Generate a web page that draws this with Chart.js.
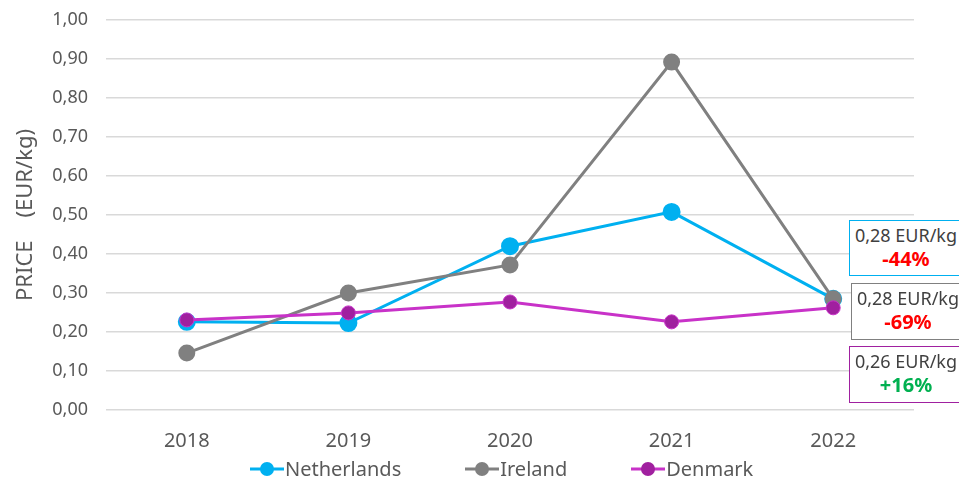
<!DOCTYPE html>
<html>
<head>
<meta charset="utf-8">
<script src="https://cdn.jsdelivr.net/npm/chart.js@4/dist/chart.umd.min.js"></script>
<style>
  html, body { margin: 0; padding: 0; background: #fff; }
  #wrap { position: relative; width: 959px; height: 486px; font-family: "Noto Sans", sans-serif; }
  .note { position: absolute; background: #fff; font-size: 18px; color: #404040; text-align: center;
          line-height: 24px; box-sizing: border-box; padding-top: 2px; white-space: nowrap; }
  .note b { display: block; font-size: 20px; }
  #legenda { position: absolute; left: 250px; top: 456px; display: flex; gap: 64px;
             font-size: 20px; color: #595959; line-height: 26px; }
  #legenda span { display: flex; align-items: center; }
  #legenda canvas { margin-right: 1px; }
</style>
</head>
<body>
<div id="wrap">
  <canvas id="grafico" width="959" height="486"></canvas>
  <div class="note" style="left:849px;top:220px;width:114px;height:56px;border:1px solid #00B0F0;">0,28 EUR/kg<b style="color:#FF0000">-44%</b></div>
  <div class="note" style="left:851px;top:283px;width:114px;height:57px;border:1px solid #808080;">0,28 EUR/kg<b style="color:#FF0000">-69%</b></div>
  <div class="note" style="left:849px;top:346px;width:114px;height:57px;border:1px solid #A020A0;">0,26 EUR/kg<b style="color:#00B050">+16%</b></div>
  <div id="legenda"></div>
</div>
<script>
// dados
const anos = ['2018', '2019', '2020', '2021', '2022'];
const netherlands = [0.226, 0.223, 0.42, 0.508, 0.285];
const ireland = [0.146, 0.30, 0.372, 0.892, 0.285];
const denmark = [0.231, 0.249, 0.277, 0.226, 0.262];

const fonte = '"Noto Sans", sans-serif';

const config = {
    type: 'line',
    data: {
        labels: anos,
        datasets: [{
            label: 'Netherlands',
            data: netherlands,
            borderColor: '#00B0F0',
            backgroundColor: '#00B0F0',
            pointBorderColor: '#00B0F0',
            borderWidth: 3,
            pointRadius: 7.5,
            order: 3
        }, {
            label: 'Ireland',
            data: ireland,
            borderColor: '#808080',
            backgroundColor: '#808080',
            pointBorderColor: '#808080',
            borderWidth: 3,
            pointRadius: 7,
            order: 2
        }, {
            label: 'Denmark',
            data: denmark,
            borderColor: '#C832C8',
            backgroundColor: '#A0209F',
            pointBorderColor: '#C832C8',
            borderWidth: 3,
            pointBorderWidth: 1,
            pointRadius: 7,
            order: 1
        }]
    },
    options: {
        responsive: false,
        animation: false,
        layout: { padding: { top: 20, right: 45, left: 13, bottom: 36 } },
        plugins: {
            tooltip: { enabled: false },
            legend: { display: false }
        },
        scales: {
            x: {
                offset: true,
                grid: { display: false },
                border: { display: false },
                ticks: { color: '#595959', font: { family: fonte, size: 20 }, padding: 11 },
                afterFit: (s) => { s.height = 40; }
            },
            y: {
                min: 0,
                max: 1,
                grid: { color: '#D9D9D9', lineWidth: 1.5, drawTicks: false },
                border: { display: false },
                title: {
                    display: true,
                    text: 'PRICE    (EUR/kg)',
                    color: '#595959',
                    font: { family: fonte, size: 22 },
                    padding: 0
                },
                ticks: {
                    stepSize: 0.1,
                    padding: 18,
                    color: '#595959',
                    font: { family: fonte, size: 18 },
                    callback: (v) => v.toFixed(2).replace('.', ',')
                },
                afterFit: (s) => { s.width = 93; s.paddingTop = 0; s.paddingBottom = 0; }
            }
        }
    }
};

// legenda em html: linha com marcador + nome
function montarLegenda(chart) {
    const box = document.getElementById('legenda');
    box.innerHTML = '';
    chart.data.datasets.forEach((ds) => {
        const item = document.createElement('span');
        const c = document.createElement('canvas');
        c.width = 34; c.height = 16;
        const g = c.getContext('2d');
        g.strokeStyle = ds.borderColor; g.lineWidth = 3;
        g.beginPath(); g.moveTo(0, 8); g.lineTo(34, 8); g.stroke();
        g.fillStyle = ds.backgroundColor;
        g.beginPath(); g.arc(17, 8, 7, 0, Math.PI * 2); g.fill();
        item.appendChild(c);
        item.appendChild(document.createTextNode(ds.label));
        box.appendChild(item);
    });
}

window.addEventListener('load', () => {
    const ctx = document.getElementById('grafico').getContext('2d');
    const chart = new Chart(ctx, config);
    montarLegenda(chart);
});
</script>
</body>
</html>
